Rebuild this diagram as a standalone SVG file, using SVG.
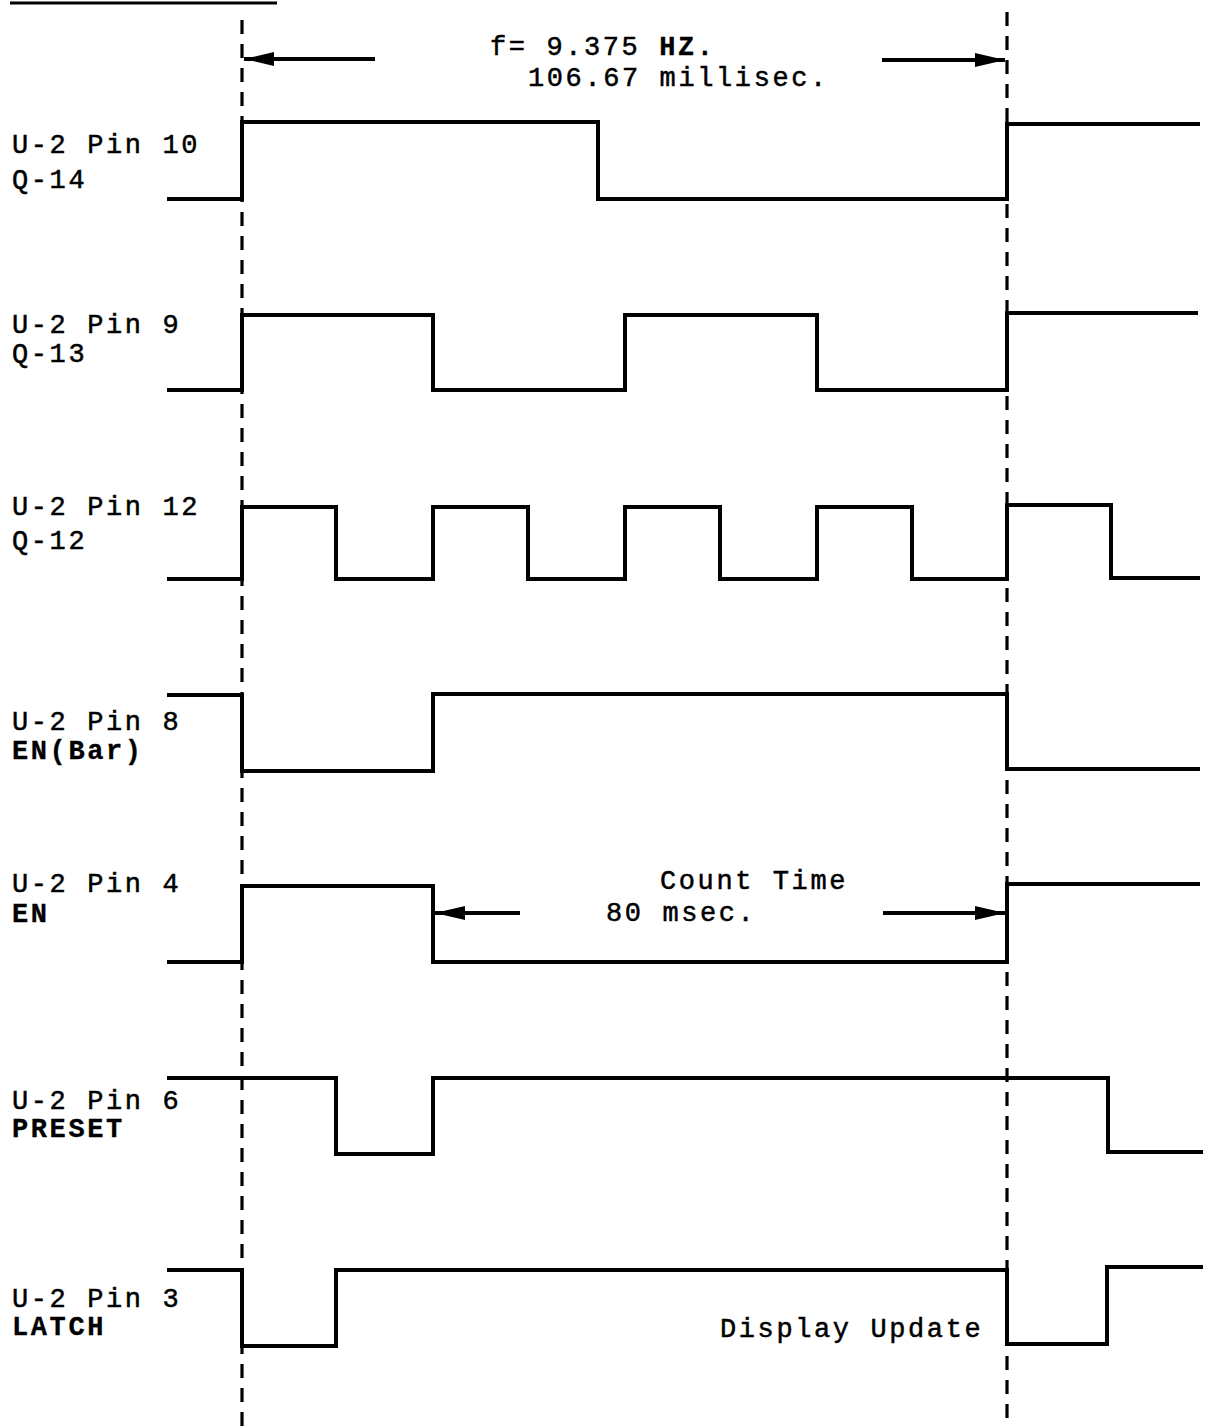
<svg xmlns="http://www.w3.org/2000/svg" width="1208" height="1428" viewBox="0 0 1208 1428">
<style>
.sig{fill:none;stroke:#000;stroke-width:4;stroke-linejoin:miter}
.dash{stroke:#000;stroke-width:3.2;stroke-dasharray:14 10}
.arr{stroke:#000;stroke-width:4}
.t{font-family:"Liberation Mono","Courier New",monospace;font-size:27px;letter-spacing:2.6px;fill:#000;stroke:#000;stroke-width:0.5}
.b{font-weight:bold;stroke-width:0.3}
</style>
<defs>
<marker id="head" markerUnits="userSpaceOnUse" markerWidth="32" markerHeight="16" refX="30" refY="8" orient="auto" viewBox="0 0 32 16">
<path d="M0,1 L30,8 L0,15 z" fill="#000"/>
</marker>
</defs>
<rect width="1208" height="1428" fill="#fff"/>
<line x1="10" y1="3" x2="277" y2="3" stroke="#000" stroke-width="3"/>
<g id="connectors">
<line class="dash" x1="242" y1="20" x2="242" y2="1428"/>
<line class="dash" x1="1007" y1="12" x2="1007" y2="1428"/>
<line class="arr" x1="375" y1="59" x2="244" y2="59" marker-end="url(#head)"/>
<line class="arr" x1="882" y1="60" x2="1005" y2="60" marker-end="url(#head)"/>
<line class="arr" x1="520" y1="913" x2="435" y2="913" marker-end="url(#head)"/>
<line class="arr" x1="883" y1="913" x2="1005" y2="913" marker-end="url(#head)"/>
</g>
<g id="title">
<text class="t" x="490" y="55">f= 9.375 <tspan class="b">HZ.</tspan></text>
<text class="t" x="528" y="86">106.67 millisec.</text>
</g>
<g id="q14">
<text class="t" x="12" y="153">U-2 Pin 10</text>
<text class="t" x="12" y="188">Q-14</text>
<polyline class="sig" points="167,199 242,199 242,122 598,122 598,199 1007,199 1007,124 1200,124"/>
</g>
<g id="q13">
<text class="t" x="12" y="333">U-2 Pin 9</text>
<text class="t" x="12" y="362">Q-13</text>
<polyline class="sig" points="167,390 242,390 242,315 433,315 433,390 625,390 625,315 817,315 817,390 1007,390 1007,313 1198,313"/>
</g>
<g id="q12">
<text class="t" x="12" y="515">U-2 Pin 12</text>
<text class="t" x="12" y="549">Q-12</text>
<polyline class="sig" points="167,579 242,579 242,507 336,507 336,579 433,579 433,507 528,507 528,579 625,579 625,507 720,507 720,579 817,579 817,507 912,507 912,579 1007,579 1007,505 1111,505 1111,578 1200,578"/>
</g>
<g id="enbar">
<text class="t" x="12" y="730">U-2 Pin 8</text>
<text class="t b" x="12" y="759">EN(Bar)</text>
<polyline class="sig" points="167,695 242,695 242,771 433,771 433,694 1007,694 1007,769 1200,769"/>
</g>
<g id="en">
<text class="t" x="12" y="892">U-2 Pin 4</text>
<text class="t b" x="12" y="922">EN</text>
<polyline class="sig" points="167,962 242,962 242,886 433,886 433,962 1007,962 1007,884 1200,884"/>
<text class="t" x="660" y="889">Count Time</text>
<text class="t" x="606" y="921">80 msec.</text>
</g>
<g id="preset">
<text class="t" x="12" y="1109">U-2 Pin 6</text>
<text class="t b" x="12" y="1137">PRESET</text>
<polyline class="sig" points="167,1078 336,1078 336,1154 433,1154 433,1078 1108,1078 1108,1152 1203,1152"/>
</g>
<g id="latch">
<text class="t" x="12" y="1307">U-2 Pin 3</text>
<text class="t b" x="12" y="1335">LATCH</text>
<polyline class="sig" points="167,1270 242,1270 242,1346 336,1346 336,1270 1007,1270 1007,1344 1107,1344 1107,1267 1203,1267"/>
<text class="t" x="720" y="1337">Display Update</text>
</g>
</svg>
